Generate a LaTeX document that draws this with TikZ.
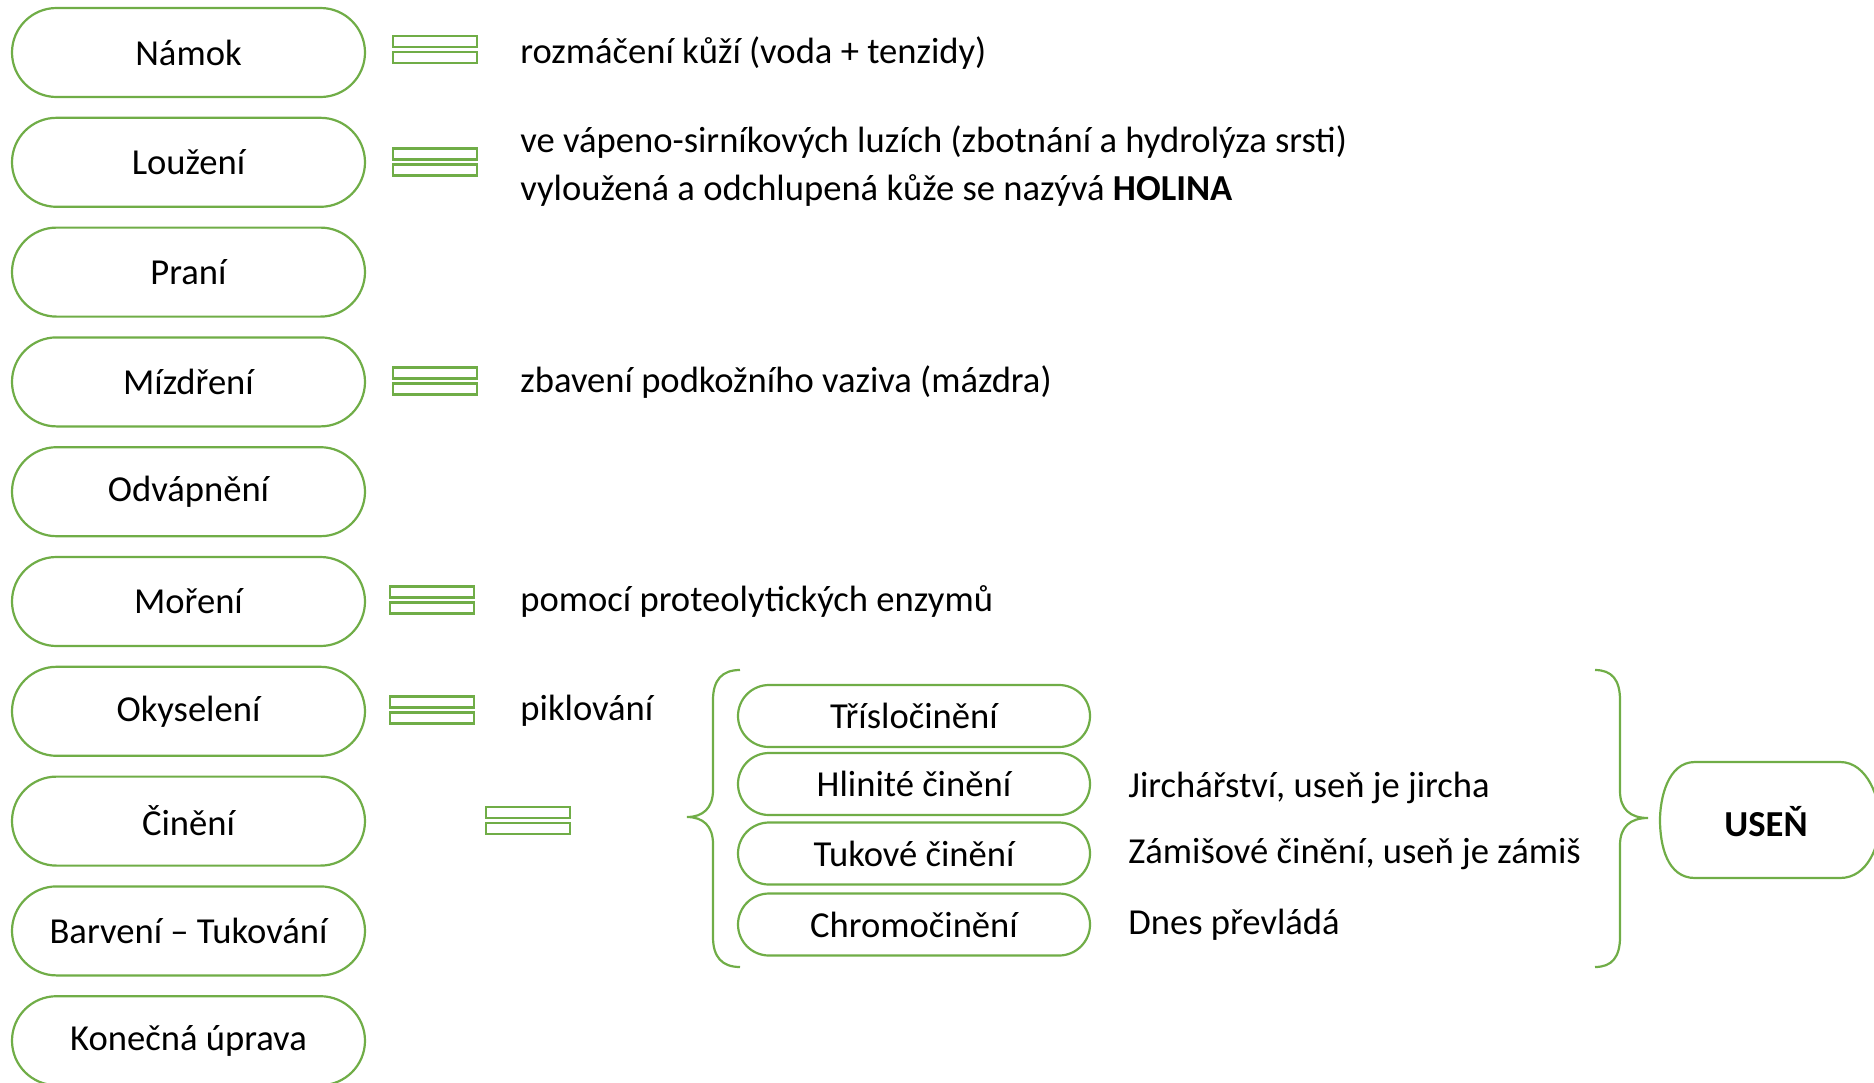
\documentclass[tikz,border=0pt]{standalone}
\usepackage{fontspec}
\setmainfont{Carlito}
\usetikzlibrary{shapes.misc}
\definecolor{pgreen}{RGB}{112,173,71}
\tikzset{
  pill/.style={rounded rectangle, draw=pgreen, line width=1.1pt, fill=white,
    minimum width=176.5pt, minimum height=44.5pt, inner sep=0pt,
    font=\fontsize{18.3}{22}\selectfont},
  smallpill/.style={rounded rectangle, draw=pgreen, line width=1.1pt, fill=white,
    minimum width=176pt, minimum height=31pt, inner sep=0pt,
    font=\fontsize{18.3}{22}\selectfont},
  txt/.style={anchor=west, inner sep=0pt, font=\fontsize{18.3}{22}\selectfont},
  bracestyle/.style={draw=pgreen, line width=1.1pt},
  eqsign/.pic={
    \draw[draw=pgreen, line width=1.1pt] (-42,-13.5) rectangle (42,-2.5);
    \draw[draw=pgreen, line width=1.1pt] (-42,2.5) rectangle (42,13.5);
  }
}
\begin{document}
\begin{tikzpicture}[x=0.5pt, y=-0.5pt]
\useasboundingbox (0,0) rectangle (1874,1082);
% left column
\node[pill] (namok) at (188.5,52.5) {Námok};
\node[pill] (louzeni) at (188.5,162.3) {Loužení};
\node[pill] (prani) at (188.5,272.1) {Praní};
\node[pill] (mizdreni) at (188.5,381.9) {Mízdření};
\node[pill] (odvapneni) at (188.5,491.7) {Odvápnění};
\node[pill] (moreni) at (188.5,601.5) {Moření};
\node[pill] (okyseleni) at (188.5,711.3) {Okyselení};
\node[pill] (cineni) at (188.5,821.1) {Činění};
\node[pill] (barveni) at (188.5,930.9) {Barvení – Tukování};
\node[pill] (konecna) at (188.5,1040.7) {Konečná úprava};
% equals signs
\pic at (435,49.5) {eqsign};
\pic at (435,162) {eqsign};
\pic at (435,381) {eqsign};
\pic at (432,600) {eqsign};
\pic at (432,710) {eqsign};
\pic at (528,820.5) {eqsign};
% descriptions
\node[txt] (t1) at (520,53) {rozmáčení kůží (voda + tenzidy)};
\node[txt] (t2a) at (520,142) {ve vápeno-sirníkových luzích (zbotnání a hydrolýza srsti)};
\node[txt] (t2b) at (520,190) {vyloužená a odchlupená kůže se nazývá \textbf{HOLINA}};
\node[txt] (t3) at (520,382) {zbavení podkožního vaziva (mázdra)};
\node[txt] (t4) at (520,601) {pomocí proteolytických enzymů};
\node[txt] (t5) at (520,711) {piklování};
% left brace
\coordinate (lbtip) at (687,817);
\draw[bracestyle] (740,670) .. controls (722,670) and (713,680) .. (713,700)
  -- (713,790) .. controls (713,808) and (703,817) .. (lbtip)
  .. controls (703,817) and (713,826) .. (713,844)
  -- (713,937) .. controls (713,957) and (722,967) .. (740,967);
% tanning types
\node[smallpill] (trislo) at (914,716) {Třísločinění};
\node[smallpill] (hlinite) at (914,784) {Hlinité činění};
\node[smallpill] (tukove) at (914,853.5) {Tukové činění};
\node[smallpill] (chromo) at (914,924.5) {Chromočinění};
\node[txt] (r1) at (1128,788) {Jirchářství, useň je jircha};
\node[txt] (r2) at (1128,854) {Zámišové činění, useň je zámiš};
\node[txt] (r3) at (1128,925) {Dnes převládá};
% right brace
\coordinate (rbtip) at (1648,818);
\draw[bracestyle] (1595,670) .. controls (1612,670) and (1620,680) .. (1620,700)
  -- (1620,791) .. controls (1620,809) and (1630,818) .. (rbtip)
  .. controls (1630,818) and (1620,827) .. (1620,845)
  -- (1620,937) .. controls (1620,957) and (1612,967) .. (1595,967);
% USEN
\draw[bracestyle] (1695,762) -- (1840,762)
  .. controls (1868,762) and (1880,800) .. (1880,820)
  .. controls (1880,845) and (1868,878) .. (1840,878)
  -- (1695,878) .. controls (1667,878) and (1660,845) .. (1660,820)
  .. controls (1660,800) and (1667,762) .. (1695,762);
\node[inner sep=0pt, font=\fontsize{18.3}{22}\selectfont\bfseries] (usen) at (1766,822) {USEŇ};
\end{tikzpicture}
\end{document}
